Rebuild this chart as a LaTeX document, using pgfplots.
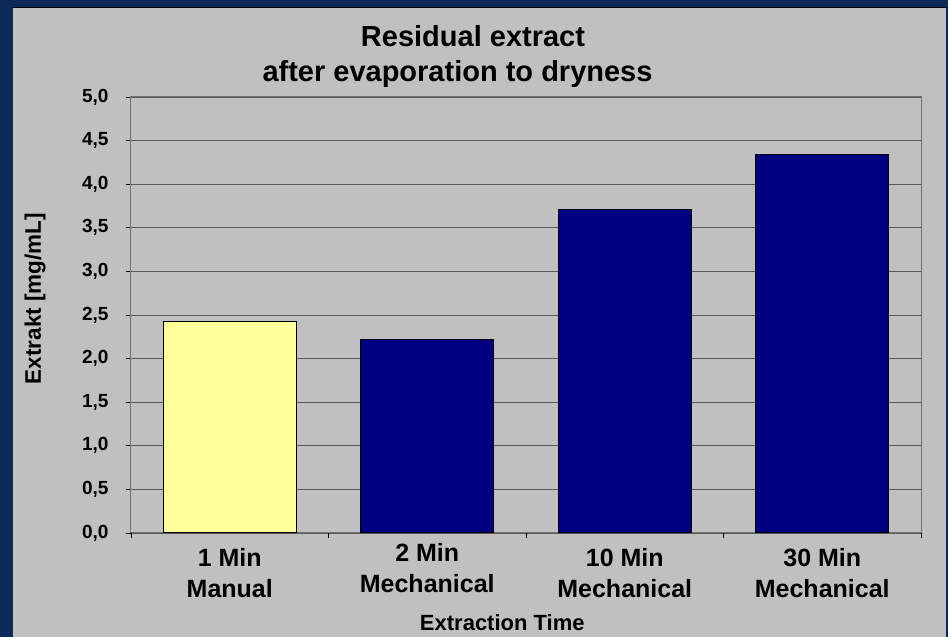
\documentclass[border=0pt]{standalone}
\usepackage{pgfplots}
\pgfplotsset{compat=1.18}
\usepackage{fontspec}
\setmainfont{Liberation Sans}
\definecolor{navybg}{HTML}{0C2A55}
\definecolor{panel}{HTML}{C0C0C0}
\definecolor{baryellow}{HTML}{FFFF99}
\definecolor{barnavy}{HTML}{000080}
\begin{document}
\begin{tikzpicture}[x=1pt,y=1pt]
\fill[navybg] (0,0) rectangle (948,637);
\fill[panel] (13,0) rectangle (946,629);
\draw[black, line width=1pt] (13,629) -- (946,629);
\node[font=\fontsize{29}{35}\bfseries\selectfont, anchor=base, inner sep=0pt] at (473,590) {Residual extract};
\node[font=\fontsize{29}{35}\bfseries\selectfont, anchor=base, inner sep=0pt] at (457.5,555) {after evaporation to dryness};
\begin{axis}[
  at={(131pt,104pt)}, anchor=south west,
  scale only axis, width=790pt, height=436pt,
  ymin=0, ymax=5, xmin=-0.5, xmax=3.5,
  ytick={0,0.5,1,1.5,2,2.5,3,3.5,4,4.5,5},
  ymajorgrids, major grid style={black!65, line width=0.8pt},
  axis line style={draw=black!55, line width=1pt},
  tick pos=left,
  tick align=outside, major tick length=5pt, minor tick length=5pt,
  tick style={black, line width=0.8pt},
  xtick={0,2,3},
  xticklabels={{1 Min\\Manual},{10 Min\\Mechanical},{30 Min\\Mechanical}},
  extra x ticks={1},
  extra x tick labels={{2 Min\\Mechanical}},
  extra x tick style={grid=none, xticklabel style={yshift=5pt}},
  major x tick style={draw=none},
  minor xtick={-0.5,0.5,1.5,2.5,3.5},
  minor x tick style={draw=black},
  xticklabel style={align=center, anchor=north, yshift=-6.5pt, font=\fontsize{25}{31}\bfseries\selectfont},
  yticklabel style={xshift=-14pt, font=\fontsize{19}{19}\bfseries\selectfont},
  /pgf/number format/.cd, fixed, fixed zerofill, precision=1, use comma, assume math mode=true,
  /pgfplots/.cd,
  ylabel={Extrakt [mg/mL]},
  ylabel style={at={(rel axis cs:-0.1215,0.538)}, anchor=center, font=\fontsize{22.5}{22.5}\bfseries\selectfont},
  xlabel={Extraction Time},
  xlabel style={at={(rel axis cs:0.47,-0.2225)}, anchor=base, font=\fontsize{22}{22}\bfseries\selectfont},
  ybar, bar width=0.673,
]
\addplot[bar shift=0pt, fill=baryellow, draw=black, line width=1pt] coordinates {(0,2.42)};
\addplot[bar shift=0pt, fill=barnavy, draw=black, line width=1pt] coordinates {(1,2.22) (2,3.71) (3,4.34)};
\end{axis}
\end{tikzpicture}
\end{document}
